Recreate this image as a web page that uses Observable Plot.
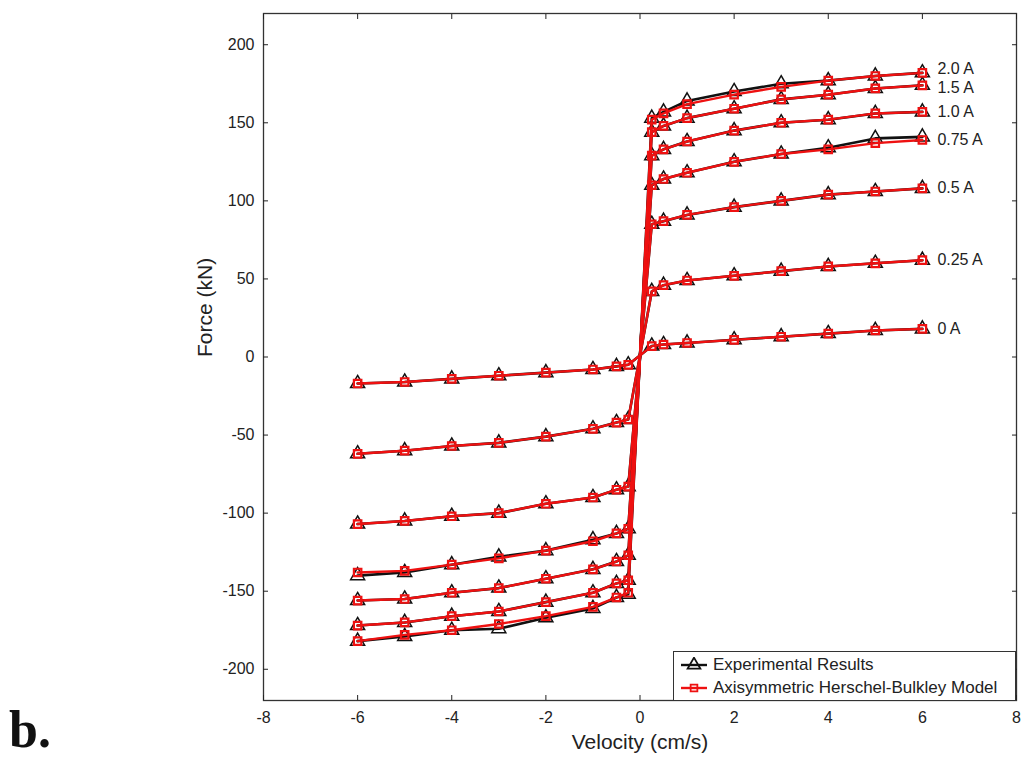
<!DOCTYPE html>
<html>
<head>
<meta charset="utf-8">
<script src="https://cdn.jsdelivr.net/npm/d3@7"></script>
<script src="https://cdn.jsdelivr.net/npm/@observablehq/plot@0.6"></script>
<style>
  body { margin: 0; background: #fff; font-family: "Liberation Sans", Arial, sans-serif; }
  #wrap { position: relative; width: 1027px; height: 771px; overflow: hidden; }
  #legend { position: absolute; left: 673px; top: 651px; width: 341px; height: 48px; border: 1px solid #333; background: #fff; font-size: 17px; color: #222; }
  #legend .row { position: absolute; left: 6px; height: 22px; display: flex; align-items: center; white-space: nowrap; }
  #legend .row svg { margin-right: 5px; }
  #panel { position: absolute; left: 9px; top: 700px; font-family: "Liberation Serif", "DejaVu Serif", serif; font-weight: bold; font-size: 52px; color: #111; }
</style>
</head>
<body>
<div id="wrap">
  <div id="chart"></div>
  <div id="legend"></div>
  <div id="panel">b.</div>
</div>
<script>
// ---- data ----
const velocity = [-6, -5, -4, -3, -2, -1, -0.5, -0.25, 0.25, 0.5, 1, 2, 3, 4, 5, 6];
const currents = ["0 A", "0.25 A", "0.5 A", "0.75 A", "1.0 A", "1.5 A", "2.0 A"];
const seriesNames = ["Experimental Results", "Axisymmetric Herschel-Bulkley Model"];
const xTicks = [-8, -6, -4, -2, 0, 2, 4, 6, 8];
const yTicks = [-200, -150, -100, -50, 0, 50, 100, 150, 200];

// Experimental results (kN)
const exp_0A   = [-17, -16, -14, -12, -10, -8, -6, -5, 7, 8, 9, 11, 13, 15, 17, 18];
const exp_025A = [-62, -60, -57, -55, -51, -46, -42, -40, 42, 46, 49, 52, 55, 58, 60, 62];
const exp_05A  = [-107, -105, -102, -100, -94, -90, -85, -83, 85, 87, 91, 96, 100, 104, 106, 108];
const exp_075A = [-140, -138, -133, -128, -124, -117, -113, -110, 110, 114, 118, 125, 130, 134, 140, 141];
const exp_10A  = [-156, -155, -151, -148, -142, -136, -131, -127, 129, 133, 138, 145, 150, 152, 156, 157];
const exp_15A  = [-172, -170, -166, -163, -157, -151, -145, -143, 144, 148, 153, 159, 165, 168, 172, 174];
const exp_20A  = [-182, -179, -175, -174, -167, -161, -154, -152, 153, 157, 164, 170, 175, 177, 180, 182];

// Axisymmetric Herschel-Bulkley model (kN)
const mod_0A   = [-17, -16, -14, -12, -10, -8, -6, -5, 7, 8, 9, 11, 13, 15, 17, 18];
const mod_025A = [-62, -60, -57, -55, -51, -46, -42, -40, 42, 46, 49, 52, 55, 58, 60, 62];
const mod_05A  = [-107, -105, -102, -100, -94, -90, -85, -83, 85, 87, 91, 96, 100, 104, 106, 108];
const mod_075A = [-138, -137, -133, -129, -124, -118, -113, -110, 110, 114, 118, 125, 130, 133, 137, 139];
const mod_10A  = [-156, -155, -151, -148, -142, -136, -131, -127, 129, 133, 138, 145, 150, 152, 156, 157];
const mod_15A  = [-172, -170, -166, -163, -157, -151, -145, -143, 144, 148, 153, 159, 165, 168, 172, 174];
const mod_20A  = [-182, -178, -175, -171, -166, -160, -154, -151, 152, 156, 162, 168, 173, 177, 180, 182];

const expSeries = [exp_0A, exp_025A, exp_05A, exp_075A, exp_10A, exp_15A, exp_20A];
const modSeries = [mod_0A, mod_025A, mod_05A, mod_075A, mod_10A, mod_15A, mod_20A];

// ---- build table ----
function toRows(list, kind) {
  const rows = [];
  list.forEach((vals, i) => vals.forEach((f, j) => rows.push({current: currents[i], velocity: velocity[j], force: f, kind})));
  return rows;
}
const expRows = toRows(expSeries, seriesNames[0]);
const modRows = toRows(modSeries, seriesNames[1]);
const lastPts = modRows.filter(d => d.velocity === velocity[velocity.length - 1]);
const crowdedUp = ["2.0 A"], crowdedDown = ["1.5 A"];

const BLACK = "#111";
const RED = "#ee1111";
const labelOpts = {x: "velocity", y: "force", text: "current", dx: 15, textAnchor: "start", fontSize: 16, fill: "#222"};

const chart = Plot.plot({
  width: 1027,
  height: 771,
  marginLeft: 263,
  marginRight: 11,
  marginTop: 13,
  marginBottom: 71,
  style: {fontFamily: "Liberation Sans, Arial, sans-serif", fontSize: "16px", color: "#222", background: "#fff"},
  x: {domain: [-8, 8]},
  y: {domain: [-220, 220]},
  marks: [
    Plot.frame({stroke: "#333", strokeWidth: 1.3}),
    Plot.axisX({anchor: "bottom", ticks: xTicks, tickSize: -5, tickPadding: 16, tickFormat: d => String(d), label: null, fontSize: 16}),
    Plot.axisX({anchor: "top", ticks: xTicks, tickSize: -5, tickFormat: () => "", label: null}),
    Plot.axisY({anchor: "left", ticks: yTicks, tickSize: -5, tickPadding: 14, tickFormat: d => String(d), label: null, fontSize: 16}),
    Plot.axisY({anchor: "right", ticks: yTicks, tickSize: -5, tickFormat: () => "", label: null}),
    Plot.text(["Velocity (cm/s)"], {frameAnchor: "bottom", dy: 48, fontSize: 21, fill: "#222"}),
    Plot.text(["Force (kN)"], {frameAnchor: "left", dx: -58, rotate: -90, fontSize: 21, fill: "#222"}),
    Plot.line(expRows, {x: "velocity", y: "force", z: "current", stroke: BLACK, strokeWidth: 2.6}),
    Plot.dot(expRows, {x: "velocity", y: "force", symbol: "triangle", r: 5.2, stroke: BLACK, strokeWidth: 1.5, fill: "none"}),
    Plot.line(modRows, {x: "velocity", y: "force", z: "current", stroke: RED, strokeWidth: 2.4}),
    Plot.dot(modRows, {x: "velocity", y: "force", symbol: "square", r: 4.2, stroke: RED, strokeWidth: 2.2, fill: "none"}),
    Plot.text(lastPts, {...labelOpts, filter: d => !crowdedUp.includes(d.current) && !crowdedDown.includes(d.current)}),
    Plot.text(lastPts, {...labelOpts, filter: d => crowdedUp.includes(d.current), dy: -4}),
    Plot.text(lastPts, {...labelOpts, filter: d => crowdedDown.includes(d.current), dy: 3})
  ]
});
document.getElementById("chart").appendChild(chart);

// ---- legend ----
const legend = document.getElementById("legend");
const legendItems = [
  {name: seriesNames[0], color: BLACK, symbol: d3.symbolTriangle, size: 70},
  {name: seriesNames[1], color: RED, symbol: d3.symbolSquare, size: 45}
];
legendItems.forEach((it, i) => {
  const row = document.createElement("div");
  row.className = "row";
  row.style.top = (2 + i * 23) + "px";
  const sym = d3.symbol(it.symbol, it.size)();
  row.innerHTML = `<svg width="28" height="16"><line x1="1" x2="27" y1="8" y2="8" stroke="${it.color}" stroke-width="2.4"/><path d="${sym}" transform="translate(14,8)" fill="none" stroke="${it.color}" stroke-width="1.8"/></svg><span>${it.name}</span>`;
  legend.appendChild(row);
});
</script>
</body>
</html>
